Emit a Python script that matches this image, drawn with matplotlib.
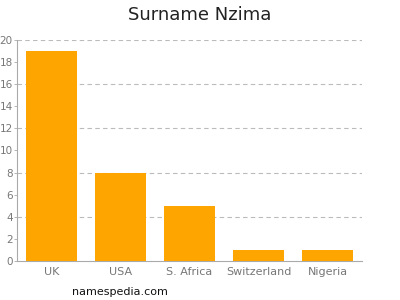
import matplotlib
matplotlib.use("Agg")
import matplotlib.pyplot as plt

countries = ["UK", "USA", "S. Africa", "Switzerland", "Nigeria"]
counts = [19, 8, 5, 1, 1]
y_ticks = [0, 2, 4, 6, 8, 10, 12, 14, 16, 18, 20]
grid_levels = [4, 8, 12, 16, 20]

GRAY = "#777777"
AXIS = "#AAAAAA"

fig = plt.figure(figsize=(4, 3), dpi=100)
ax = fig.add_axes([0.0425, 0.13, 0.8625, 0.737])

ax.bar(range(len(countries)), counts, width=0.725, color="#FFA500", zorder=3)

for g in grid_levels:
    ax.axhline(g, color="#BBBBBB", lw=0.8, ls=(0, (4, 3)), zorder=1)

ax.set_xlim(-0.5, 4.5)
ax.set_ylim(0, 20)
ax.set_yticks(y_ticks)
ax.set_xticks(range(len(countries)))
ax.set_xticklabels(countries)

for s in ["top", "right"]:
    ax.spines[s].set_visible(False)
for s in ["left", "bottom"]:
    ax.spines[s].set_color(AXIS)
    ax.spines[s].set_linewidth(0.8)

ax.tick_params(axis="y", colors=AXIS, labelcolor=GRAY, labelsize=7.5,
               length=2, width=0.6, pad=1)
ax.tick_params(axis="x", colors=AXIS, labelcolor=GRAY, labelsize=8,
               length=0, pad=4)

fig.text(0.5, 0.95, "Surname Nzima", ha="center", va="center",
         fontsize=13, color="#222222")
fig.text(0.30, 0.027, "namespedia.com", ha="center", va="center",
         fontsize=8, color="#111111")

fig.savefig("out.png", dpi=100)
